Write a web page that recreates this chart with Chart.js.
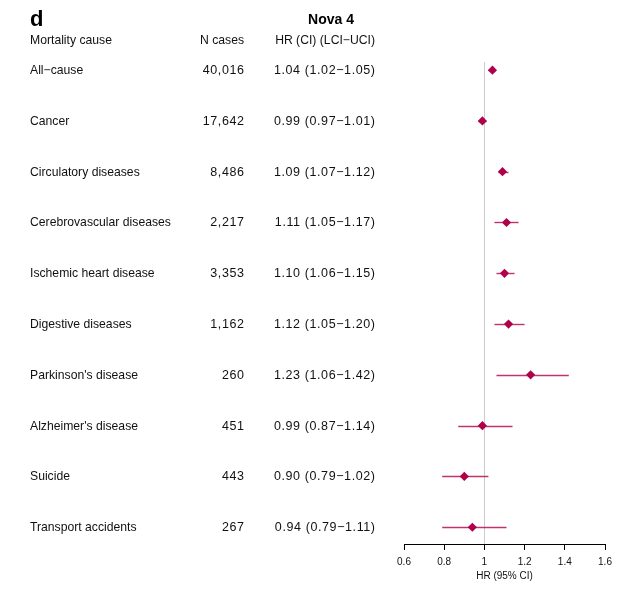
<!DOCTYPE html>
<html>
<head>
<meta charset="utf-8">
<script src="https://cdn.jsdelivr.net/npm/chart.js@4"></script>
<style>
  html, body { margin: 0; padding: 0; background: #fff; }
  #wrap { width: 644px; height: 590px; }
</style>
</head>
<body>
<div id="wrap"><canvas id="forestChart" width="644" height="590"></canvas></div>
<script>
// Data
const causes = ['All\u2212cause', 'Cancer', 'Circulatory diseases', 'Cerebrovascular diseases',
  'Ischemic heart disease', 'Digestive diseases', "Parkinson's disease", "Alzheimer's disease",
  'Suicide', 'Transport accidents'];
const nCases = [40016, 17642, 8486, 2217, 3353, 1162, 260, 451, 443, 267];
const hr  = [1.04, 0.99, 1.09, 1.11, 1.10, 1.12, 1.23, 0.99, 0.90, 0.94];
const lci = [1.02, 0.97, 1.07, 1.05, 1.06, 1.05, 1.06, 0.87, 0.79, 0.79];
const uci = [1.05, 1.01, 1.12, 1.17, 1.15, 1.20, 1.42, 1.14, 1.02, 1.11];
const xTicks = [0.6, 0.8, 1, 1.2, 1.4, 1.6];

const FONT = '"Liberation Sans", Arial, sans-serif';
const MARK = '#b0004a';

const rowsPlugin = {
  id: 'rows',
  beforeDatasetsDraw(chart) {
    const { ctx, chartArea, scales: { x, y } } = chart;
    ctx.save();
    // reference line at HR = 1
    const x1 = Math.round(x.getPixelForValue(1)) + 0.5;
    ctx.strokeStyle = '#cccccc';
    ctx.lineWidth = 1;
    ctx.beginPath();
    ctx.moveTo(x1, chartArea.top);
    ctx.lineTo(x1, chartArea.bottom);
    ctx.stroke();
    // confidence intervals
    ctx.strokeStyle = 'rgba(176, 0, 74, 0.8)';
    ctx.lineWidth = 1.4;
    hr.forEach((v, i) => {
      const py = Math.round(y.getPixelForValue(i + 1)) + 0.5;
      ctx.beginPath();
      ctx.moveTo(x.getPixelForValue(lci[i]), py);
      ctx.lineTo(x.getPixelForValue(uci[i]), py);
      ctx.stroke();
    });
    ctx.restore();
  },
  afterDraw(chart) {
    const { ctx, scales: { y } } = chart;
    ctx.save();
    ctx.fillStyle = '#000';
    ctx.textBaseline = 'alphabetic';
    ctx.font = 'bold 22px ' + FONT;
    ctx.textAlign = 'left';
    ctx.fillText('d', 30, 26);
    ctx.font = 'bold 14px ' + FONT;
    ctx.textAlign = 'center';
    ctx.fillText('Nova 4', 331, 24);

    ctx.font = '12.2px ' + FONT;
    ctx.fillStyle = '#111';
    ctx.textAlign = 'left';
    ctx.fillText('Mortality cause', 30, 44);
    ctx.textAlign = 'right';
    ctx.fillText('N cases', 244, 44);
    ctx.fillText('HR (CI) (LCI\u2212UCI)', 375, 44);

    causes.forEach((c, i) => {
      const py = Math.round(y.getPixelForValue(i + 1)) + 3.5;
      ctx.font = '12.2px ' + FONT;
      ctx.letterSpacing = '0px';
      ctx.textAlign = 'left';
      ctx.fillText(c, 30, py);
      // numeric columns come out a bit wider in the original
      ctx.font = '12.5px ' + FONT;
      ctx.letterSpacing = '0.6px';
      ctx.textAlign = 'right';
      ctx.fillText(nCases[i].toLocaleString('en-US'), 244.6, py);
      ctx.fillText(hr[i].toFixed(2) + ' (' + lci[i].toFixed(2) + '\u2212' + uci[i].toFixed(2) + ')', 375.6, py);
    });
    ctx.restore();
  }
};

new Chart(document.getElementById('forestChart').getContext('2d'), {
  type: 'scatter',
  data: {
    datasets: [{
      label: 'HR',
      data: hr.map((v, i) => ({ x: v, y: i + 1 })),
      pointStyle: 'rectRot',
      pointRadius: 4.6,
      pointHoverRadius: 4.6,
      backgroundColor: MARK,
      borderColor: MARK,
      borderWidth: 0
    }]
  },
  options: {
    responsive: false,
    animation: false,
    layout: { padding: { left: 404, right: 39, top: 62, bottom: 8 } },
    plugins: {
      legend: { display: false },
      tooltip: { enabled: false }
    },
    scales: {
      x: {
        type: 'linear',
        min: 0.6,
        max: 1.6,
        afterBuildTicks: scale => { scale.ticks = xTicks.map(v => ({ value: v })); },
        afterFit: scale => { scale.height = 38; },
        grid: { drawOnChartArea: false, drawTicks: true, tickLength: 6, color: '#000', lineWidth: 1 },
        border: { display: true, color: '#000', width: 1 },
        ticks: {
          color: '#111',
          padding: 6,
          maxRotation: 0,
          font: { family: FONT, size: 10 },
          callback: v => String(Math.round(v * 10) / 10)
        },
        title: {
          display: true,
          text: 'HR (95% CI)',
          color: '#111',
          padding: { top: 0, bottom: 0 },
          font: { family: FONT, size: 10 }
        }
      },
      y: {
        type: 'linear',
        display: false,
        reverse: true,
        min: 0.84,
        max: 10.33
      }
    }
  },
  plugins: [rowsPlugin]
});
</script>
</body>
</html>
